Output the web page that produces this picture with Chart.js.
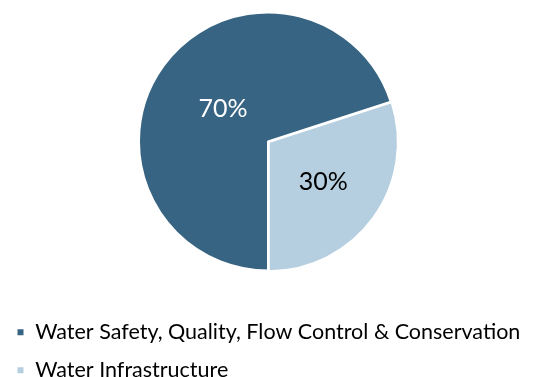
<!DOCTYPE html>
<html>
<head>
<meta charset="utf-8">
<script src="https://cdn.jsdelivr.net/npm/chart.js@4"></script>
<style>
  html, body { margin: 0; padding: 0; background: #fff; overflow: hidden; }
  #wrap { width: 536px; height: 377px; overflow: hidden; }
  #myChart { display: block; margin-top: -22px; }
</style>
</head>
<body>
<div id="wrap"><canvas id="myChart" width="536" height="399"></canvas></div>
<script>
// Pie data
const labels = ['Water Safety, Quality, Flow Control & Conservation', 'Water Infrastructure'];
const values = [70, 30];
const colors = ['#376482', '#b5cfe0'];
const labelColors = ['#ffffff', '#000000'];

// draw the percentage labels inside each slice
const sliceLabels = {
    id: 'sliceLabels',
    afterDatasetsDraw(chart, args, opts) {
        const ctx = chart.ctx;
        const meta = chart.getDatasetMeta(0);
        const total = values.reduce((a, b) => a + b, 0);
        ctx.save();
        ctx.font = opts.font;
        ctx.textAlign = 'center';
        ctx.textBaseline = 'middle';
        meta.data.forEach((arc, i) => {
            const p = arc.getProps(['x', 'y', 'startAngle', 'endAngle', 'outerRadius'], true);
            const mid = (p.startAngle + p.endAngle) / 2;
            const r = p.outerRadius * opts.dist[i];
            ctx.fillStyle = labelColors[i];
            ctx.fillText(Math.round(values[i] / total * 100) + '%', p.x + Math.cos(mid) * r, p.y + Math.sin(mid) * r);
        });
        ctx.restore();
    }
};

const config = {
    type: 'pie',
    data: {
        labels: labels,
        datasets: [{
            data: values,
            backgroundColor: colors,
            borderColor: '#ffffff',
            borderWidth: 2,
            offset: [0, 4],
            radius: 129
        }]
    },
    options: {
        responsive: false,
        animation: false,
        rotation: 180,
        layout: { padding: { top: 0, bottom: -14, left: 0, right: 0 } },
        plugins: {
            tooltip: { enabled: false },
            legend: {
                position: 'bottom',
                align: 'start',
                labels: {
                    font: { family: 'Lato', size: 21.5 },
                    color: '#000000',
                    boxWidth: 8,
                    boxHeight: 8,
                    padding: 16.5
                }
            },
            sliceLabels: {
                font: '25px Lato',
                dist: [0.43, 0.53]
            }
        }
    },
    plugins: [sliceLabels]
};

const ctx = document.getElementById('myChart').getContext('2d');
const myChart = new Chart(ctx, config);
</script>
</body>
</html>
